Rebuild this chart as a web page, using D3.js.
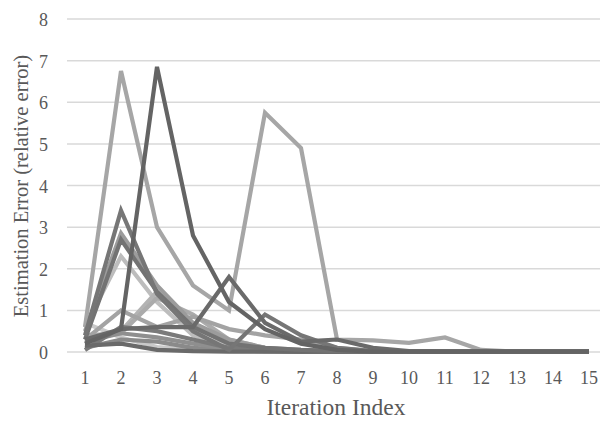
<!DOCTYPE html>
<html>
<head>
<meta charset="utf-8">
<script src="https://cdn.jsdelivr.net/npm/d3@7"></script>
<style>
body{margin:0;background:#fff;}
text{font-family:"Liberation Serif","DejaVu Serif",serif;}
</style>
</head>
<body>
<script>
// iteration index on x, relative estimation error on y
var iterations=d3.range(1,16);
var yTicks=[0,1,2,3,4,5,6,7,8];

// one array per run (value at iterations 1..15)
var run1=[0.6,6.75,3.0,1.6,1.0,5.75,4.9,0.3,0.28,0.22,0.35,0.05,0.01,0.01,0.01];
var run2=[0.2,0.55,6.85,2.8,1.2,0.55,0.2,0.05,0.01,0.01,0.01,0.01,0.01,0.01,0.01];
var run3=[0.3,0.55,0.6,0.6,1.8,0.7,0.25,0.3,0.1,0.02,0.01,0.01,0.01,0.01,0.01];
var run4=[0.4,3.4,1.4,0.5,0.05,0.9,0.4,0.1,0.02,0.01,0.01,0.01,0.01,0.01,0.01];
var run5=[0.5,2.85,1.6,0.7,0.3,0.1,0.05,0.02,0.01,0.01,0.01,0.01,0.01,0.01,0.01];
var run6=[0.3,2.7,1.45,0.6,0.2,0.1,0.05,0.02,0.01,0.01,0.01,0.01,0.01,0.01,0.01];
var run7=[0.6,2.3,1.2,0.4,0.15,0.05,0.02,0.01,0.01,0.01,0.01,0.01,0.01,0.01,0.01];
var run8=[0.3,1.0,0.6,0.85,0.55,0.4,0.3,0.1,0.02,0.01,0.01,0.01,0.01,0.01,0.01];
var run9=[0.2,0.5,1.45,0.6,0.2,0.08,0.03,0.01,0.01,0.01,0.01,0.01,0.01,0.01,0.01];
var run10=[0.7,0.35,0.12,0.05,0.02,0.01,0.01,0.01,0.01,0.01,0.01,0.01,0.01,0.01,0.01];
var run11=[0.1,0.3,0.25,0.1,0.05,0.02,0.01,0.01,0.01,0.01,0.01,0.01,0.01,0.01,0.01];
var run12=[0.05,0.6,0.5,0.3,0.1,0.04,0.01,0.01,0.01,0.01,0.01,0.01,0.01,0.01,0.01];
var run13=[0.4,0.45,1.3,0.9,0.3,0.1,0.03,0.01,0.01,0.01,0.01,0.01,0.01,0.01,0.01];
var run14=[0.15,0.2,0.05,0.02,0.01,0.01,0.01,0.01,0.01,0.01,0.01,0.01,0.01,0.01,0.01];
var run15=[0.25,0.45,0.35,0.2,0.08,0.03,0.01,0.01,0.01,0.01,0.01,0.01,0.01,0.01,0.01];

var runs=[run10,run7,run9,run13,run8,run5,run1,run11,run15,run12,run14,run6,run4,run3,run2];
var shades=["#c9c9c9","#bdbdbd","#b3b3b3","#ababab","#a3a3a3","#9c9c9c","#a6a6a6","#8a8a8a",
            "#8f8f8f","#7a7a7a","#6a6a6a","#737373","#767676","#6a6a6a","#646464"];

var W=600,H=421;
var svg=d3.select("body").append("svg").attr("width",W).attr("height",H);

var x=d3.scaleBand().domain(iterations).range([67,607]);
var y=d3.scaleLinear().domain([0,8]).range([352,19]);

// gridlines
svg.append("g").selectAll("line").data(yTicks).enter().append("line")
  .attr("x1",67).attr("x2",W)
  .attr("y1",function(d){return y(d);}).attr("y2",function(d){return y(d);})
  .attr("stroke","#d9d9d9").attr("stroke-width",1.5);

// y tick labels
svg.append("g").selectAll("text").data(yTicks).enter().append("text")
  .attr("x",48).attr("y",function(d){return y(d)+7;})
  .attr("text-anchor","end").attr("font-size",18).attr("fill","#595959")
  .text(function(d){return d;});

// x tick labels
svg.append("g").selectAll("text").data(iterations).enter().append("text")
  .attr("x",function(d){return x(d)+x.bandwidth()/2;}).attr("y",384)
  .attr("text-anchor","middle").attr("font-size",18).attr("fill","#595959")
  .text(function(d){return d;});

var line=d3.line()
  .x(function(d,i){return x(iterations[i])+x.bandwidth()/2;})
  .y(function(d){return y(d);});

svg.append("g").selectAll("path").data(runs).enter().append("path")
  .attr("d",line)
  .attr("fill","none")
  .attr("stroke",function(d,i){return shades[i];})
  .attr("stroke-width",4.2)
  .attr("stroke-linejoin","miter");

// axis titles
svg.append("text").attr("x",336).attr("y",415)
  .attr("text-anchor","middle").attr("font-size",23.5).attr("fill","#595959")
  .text("Iteration Index");
svg.append("text").attr("transform","translate(28,186) rotate(-90)")
  .attr("text-anchor","middle").attr("font-size",20.5).attr("fill","#595959")
  .text("Estimation Error (relative error)");
</script>
</body>
</html>
